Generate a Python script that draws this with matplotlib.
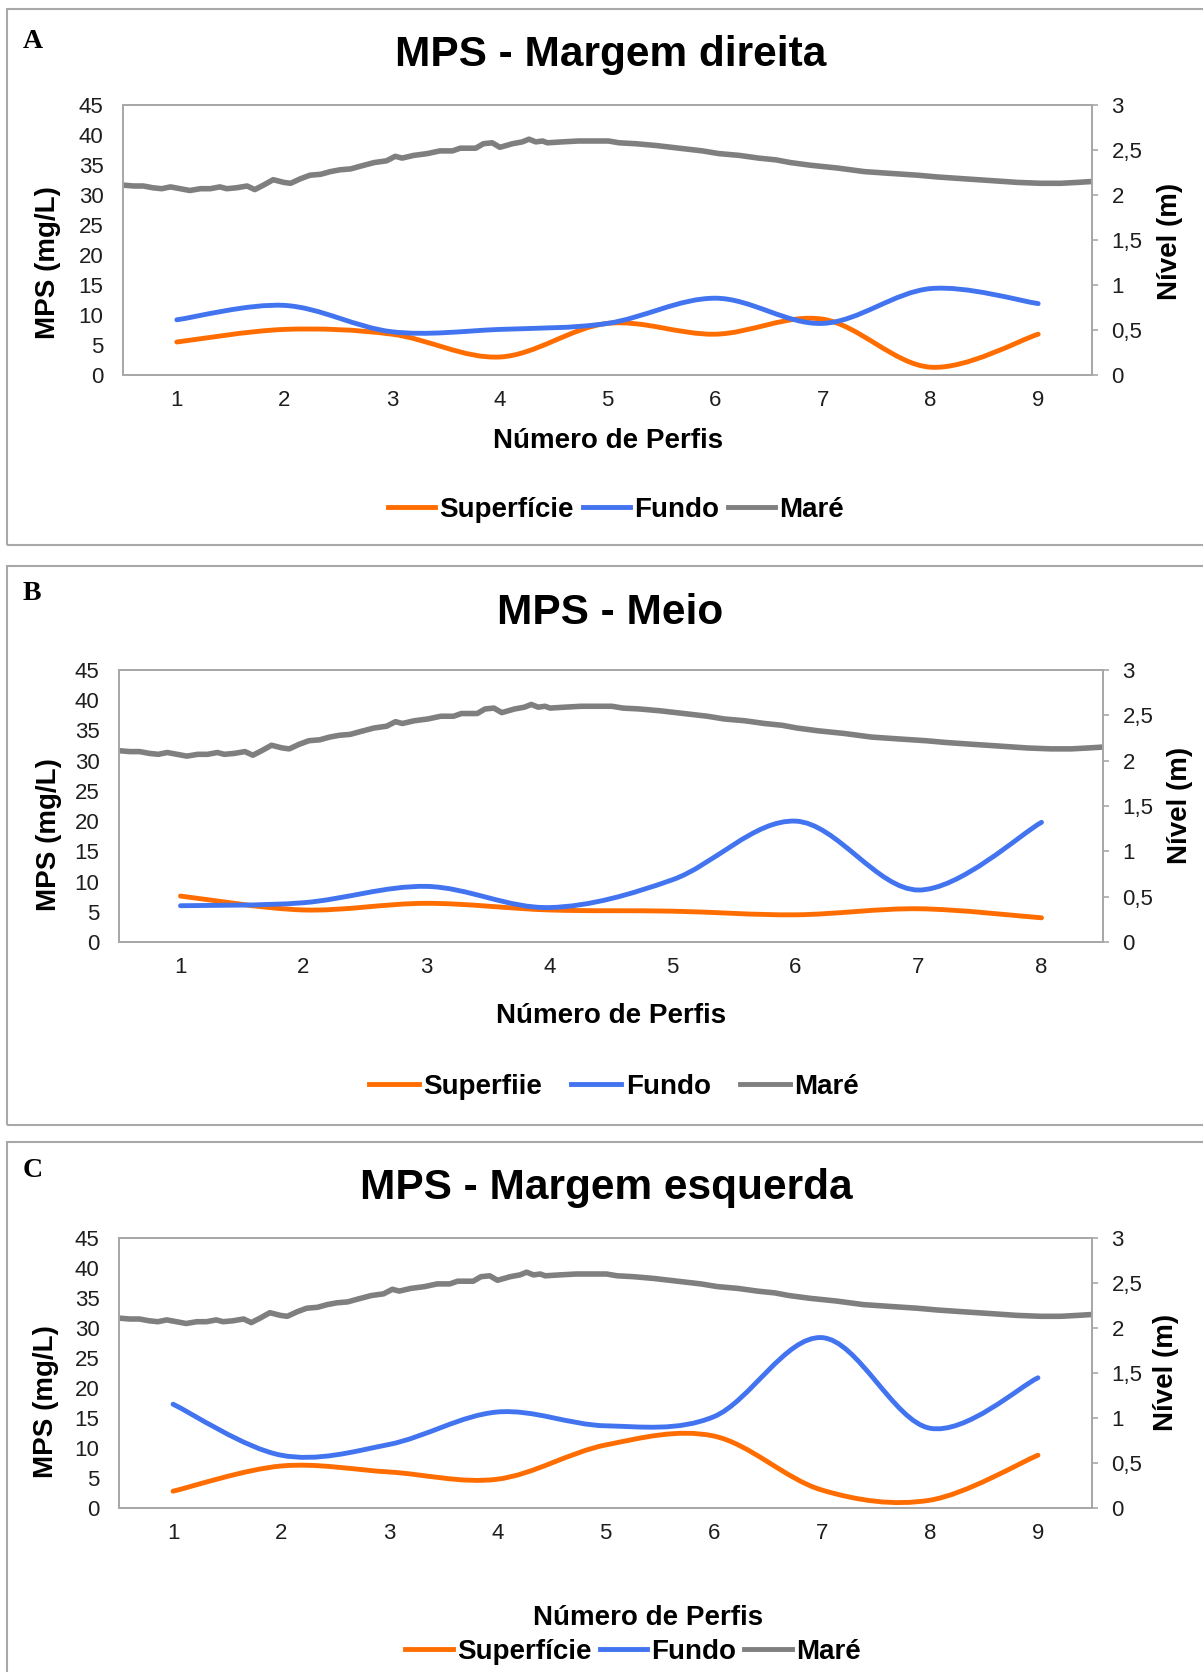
import numpy as np
import matplotlib
matplotlib.use("Agg")
import matplotlib.pyplot as plt
from matplotlib.path import Path
from matplotlib.patches import PathPatch, Rectangle
from matplotlib.lines import Line2D
from matplotlib.ticker import FuncFormatter

plt.rcParams['font.family'] = ['Liberation Sans', 'DejaVu Sans']

# MPS (mg/L) por perfil
perfis_a = [1, 2, 3, 4, 5, 6, 7, 8, 9]
sup_a = [5.5, 7.6, 6.8, 3.0, 8.6, 6.8, 9.3, 1.3, 6.8]
fundo_a = [9.2, 11.6, 7.2, 7.6, 8.6, 12.8, 8.6, 14.4, 11.9]

perfis_b = [1, 2, 3, 4, 5, 6, 7, 8]
sup_b = [7.6, 5.3, 6.4, 5.3, 5.1, 4.5, 5.5, 4.0]
fundo_b = [6.0, 6.5, 9.2, 5.7, 10.3, 20.0, 8.6, 19.8]

perfis_c = [1, 2, 3, 4, 5, 6, 7, 8, 9]
sup_c = [2.8, 7.0, 6.0, 4.8, 10.5, 12.0, 3.0, 1.3, 8.8]
fundo_c = [17.3, 8.8, 10.6, 16.0, 13.7, 15.2, 28.4, 13.3, 21.7]

# mare: tempo (% da campanha) e nivel (m)
tide_t = [0.0, 1.1, 2.1, 3.1, 4.0, 4.9, 5.9, 6.9, 8.0, 9.0, 10.0, 10.7, 11.7, 12.8,
          13.6, 14.5, 15.5, 16.6, 17.3, 18.3, 19.3, 20.4, 21.4, 22.4, 23.5, 24.5,
          25.9, 27.2, 28.1, 28.8, 30.0, 31.4, 32.7, 34.0, 34.8, 36.4, 37.2, 38.1,
          38.9, 40.2, 41.2, 41.9, 42.6, 43.3, 43.8, 45.3, 47.0, 48.4, 50.1, 51.2,
          52.9, 55.0, 57.4, 59.8, 61.5, 63.6, 65.6, 67.4, 68.9, 71.0, 73.7, 76.5,
          79.2, 82.0, 84.1, 86.8, 89.6, 92.3, 94.7, 96.8, 98.5, 100.0]
tide_m = [2.11, 2.10, 2.10, 2.08, 2.07, 2.09, 2.07, 2.05, 2.07, 2.07, 2.09, 2.07, 2.08, 2.10,
          2.06, 2.11, 2.17, 2.14, 2.13, 2.18, 2.22, 2.23, 2.26, 2.28, 2.29, 2.32,
          2.36, 2.38, 2.43, 2.41, 2.44, 2.46, 2.49, 2.49, 2.52, 2.52, 2.57, 2.58,
          2.53, 2.57, 2.59, 2.62, 2.59, 2.60, 2.58, 2.59, 2.60, 2.60, 2.60, 2.58,
          2.57, 2.55, 2.52, 2.49, 2.46, 2.44, 2.41, 2.39, 2.36, 2.33, 2.30, 2.26,
          2.24, 2.22, 2.20, 2.18, 2.16, 2.14, 2.13, 2.13, 2.14, 2.15]

ORANGE = '#ff6d01'
BLUE = '#4274f0'
GRAY = '#7f7f7f'
FRAME = '#a8a8a8'

W, H = 1203, 1672
fig = plt.figure(figsize=(W / 100, H / 100), dpi=100)


def fx(px):
    return px / W


def fy(py):
    return 1 - py / H


def smooth_path(xs, ys):
    # excel-like smoothed line (bezier through every point)
    pts = np.column_stack([xs, ys]).astype(float)
    n = len(pts)
    verts = [pts[0]]
    codes = [Path.MOVETO]
    for i in range(n - 1):
        p0 = pts[max(i - 1, 0)]
        p1 = pts[i]
        p2 = pts[i + 1]
        p3 = pts[min(i + 2, n - 1)]
        verts += [p1 + (p2 - p0) / 6, p2 - (p3 - p1) / 6, p2]
        codes += [Path.CURVE4] * 3
    return Path(verts, codes)


def panel(box, ax_px, letter, title, title_y, perfis, sup, fundo,
          ylab, ylab2, xlab, leg, sup_label, leg_opts):
    # panel frame
    x0, y0, y1 = box
    fig.add_artist(Rectangle((fx(x0), fy(y1)), fx(W + 20 - x0), fy(y0) - fy(y1),
                             transform=fig.transFigure, fill=False,
                             edgecolor=FRAME, lw=1.5))
    fig.text(fx(23), fy(letter[1]), letter[0], family='Liberation Serif',
             weight='bold', fontsize=20, va='baseline', ha='left')
    fig.text(fx(title[1]), fy(title_y), title[0], fontsize=30.5, weight='bold',
             ha='center', va='baseline')

    l, r, t, b = ax_px
    ax = fig.add_axes([fx(l), fy(b), fx(r - l), fy(t) - fy(b)])
    ax2 = ax.twinx()
    n = len(perfis)

    ax.add_patch(PathPatch(smooth_path(perfis, sup), facecolor='none',
                           edgecolor=ORANGE, lw=3.5, capstyle='round'))
    ax.add_patch(PathPatch(smooth_path(perfis, fundo), facecolor='none',
                           edgecolor=BLUE, lw=3.5, capstyle='round'))
    tx = 0.5 + np.array(tide_t) / 100 * n
    ax2.plot(tx, tide_m, color=GRAY, lw=4, solid_joinstyle='round')

    ax.set_xlim(0.5, n + 0.5)
    ax.set_ylim(0, 45)
    ax2.set_ylim(0, 3)
    ax.set_xticks(perfis)
    ax.set_yticks(np.arange(0, 46, 5))
    ax2.set_yticks(np.arange(0, 3.01, 0.5))
    ax2.yaxis.set_major_formatter(FuncFormatter(lambda v, p: f"{v:g}".replace('.', ',')))
    ax.tick_params(axis='x', length=0, pad=11, labelsize=16, labelcolor='#1e1e1e')
    ax.tick_params(axis='y', length=0, pad=14, labelsize=16, labelcolor='#1e1e1e')
    ax2.tick_params(axis='y', length=4, width=1.2, color=FRAME, pad=10,
                    labelsize=16, labelcolor='#1e1e1e')
    for a in (ax, ax2):
        for s in a.spines.values():
            s.set_color(FRAME)
            s.set_linewidth(1.3)

    fig.text(fx(ylab[0]), fy(ylab[1]), 'MPS (mg/L)', rotation=90, fontsize=20,
             weight='bold', ha='center', va='center')
    fig.text(fx(ylab2[0]), fy(ylab2[1]), 'Nível (m)', rotation=90, fontsize=20,
             weight='bold', ha='center', va='center')
    fig.text(fx(xlab[0]), fy(xlab[1]), 'Número de Perfis', fontsize=20,
             weight='bold', ha='center', va='baseline')

    handles = [Line2D([], [], color=ORANGE, lw=3.5),
               Line2D([], [], color=BLUE, lw=3.5),
               Line2D([], [], color=GRAY, lw=3.5)]
    fig.legend(handles, [sup_label, 'Fundo', 'Maré'], loc='center',
               bbox_to_anchor=(fx(leg[0]), fy(leg[1])), bbox_transform=fig.transFigure,
               ncol=3, frameon=False, prop={'weight': 'bold', 'size': 20},
               handletextpad=0.15, borderaxespad=0, **leg_opts)


panel((7, 9, 545), (123, 1092, 105, 375), ('A', 48), ('MPS - Margem direita', 611), 66,
      perfis_a, sup_a, fundo_a, (48, 263), (1170, 241), (608, 448), (616, 510),
      'Superfície', dict(handlelength=1.7, columnspacing=0.32))
panel((7, 566, 1125), (119, 1103, 670, 942), ('B', 600), ('MPS - Meio', 610), 624,
      perfis_b, sup_b, fundo_b, (49, 835), (1180, 805), (611, 1023), (614, 1087),
      'Superfiie', dict(handlelength=1.8, columnspacing=1.05))
panel((7, 1142, 1700), (119, 1092, 1238, 1508), ('C', 1177), ('MPS - Margem esquerda', 606), 1199,
      perfis_c, sup_c, fundo_c, (46, 1402), (1166, 1372), (648, 1625), (633, 1652),
      'Superfície', dict(handlelength=1.7, columnspacing=0.3))

fig.savefig('out.png', dpi=100)
